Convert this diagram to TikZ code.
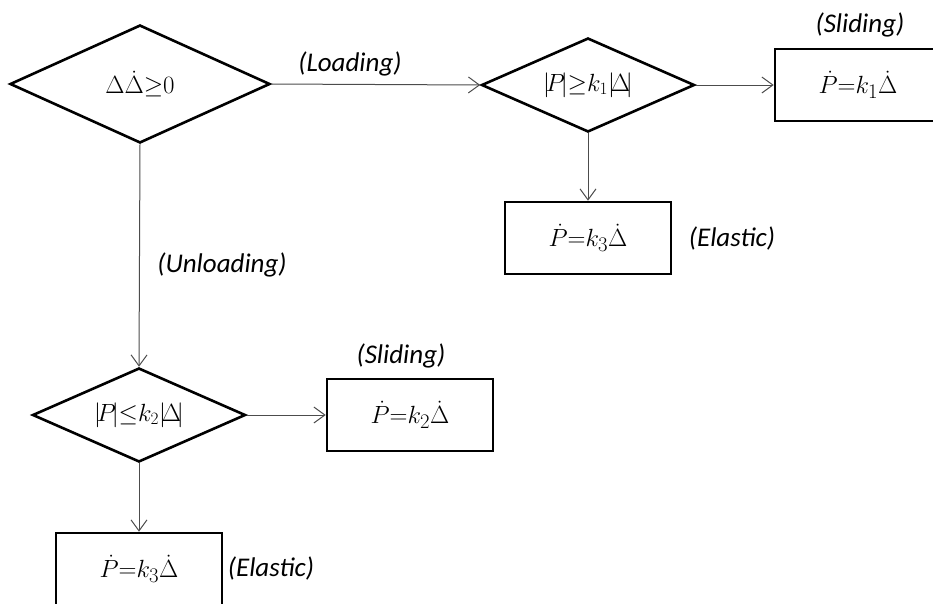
\documentclass[tikz,border=0pt]{standalone}
\usepackage{fontspec}
\newfontfamily\labelfont{Carlito}
\usetikzlibrary{shapes.geometric,arrows.meta}
\thickmuskip=0mu
\tikzset{
  cond/.style={diamond,draw,line width=2.6pt,inner sep=0pt,aspect=3,font=\fontsize{26}{30}\selectfont},
  law/.style={rectangle,draw,line width=2.6pt,inner sep=0pt,minimum width=166pt,minimum height=72pt,font=\fontsize{29}{32}\selectfont},
  flow/.style={-{Straight Barb[length=11pt,width=16pt]},line width=1pt,black!70},
  tag/.style={font=\labelfont\itshape\fontsize{27}{30}\selectfont}
}
\begin{document}
\begin{tikzpicture}[x=1pt,y=-1pt]
        \useasboundingbox (0,0) rectangle (933,603);

        % rombi di controllo
        \node[cond,minimum width=260pt,minimum height=118pt] (check) at (140,84) {$\Delta\dot{\Delta}\geq 0$};
        \node[cond,minimum width=213pt,minimum height=94pt] (load) at (588,85) {$|\!P\!|\geq k_1|\!\Delta\!|$};
        \node[cond,minimum width=213pt,minimum height=94pt] (unload) at (139,415) {$|\!P\!|\leq k_2|\!\Delta\!|$};

        % leggi incrementali
        \node[law] (slideA) at (858,85) {$\dot{P}=k_1\dot{\Delta}$};
        \node[law] (elasticA) at (588,238) {$\dot{P}=k_3\dot{\Delta}$};
        \node[law] (slideB) at (410,415) {$\dot{P}=k_2\dot{\Delta}$};
        \node[law] (elasticB) at (139,569) {$\dot{P}=k_3\dot{\Delta}$};

        % frecce
        \draw[flow] (check.east) -- (load.west);
        \draw[flow] (load.east) -- (slideA.west);
        \draw[flow] (load.south) -- (elasticA.north);
        \draw[flow] (check.south) -- (unload.north);
        \draw[flow] (unload.east) -- (slideB.west);
        \draw[flow] (unload.south) -- (elasticB.north);

        % etichette
        \node[tag] (tLoad) at (350,64) {(Loading)};
        \node[tag] (tUnload) at (222,265) {(Unloading)};
        \node[tag] (tSlideA) at (860,25) {(Sliding)};
        \node[tag] (tElasticA) at (732,238) {(Elastic)};
        \node[tag] (tSlideB) at (401,356) {(Sliding)};
        \node[tag] (tElasticB) at (271,568) {(Elastic)};
    \end{tikzpicture}
\end{document}
